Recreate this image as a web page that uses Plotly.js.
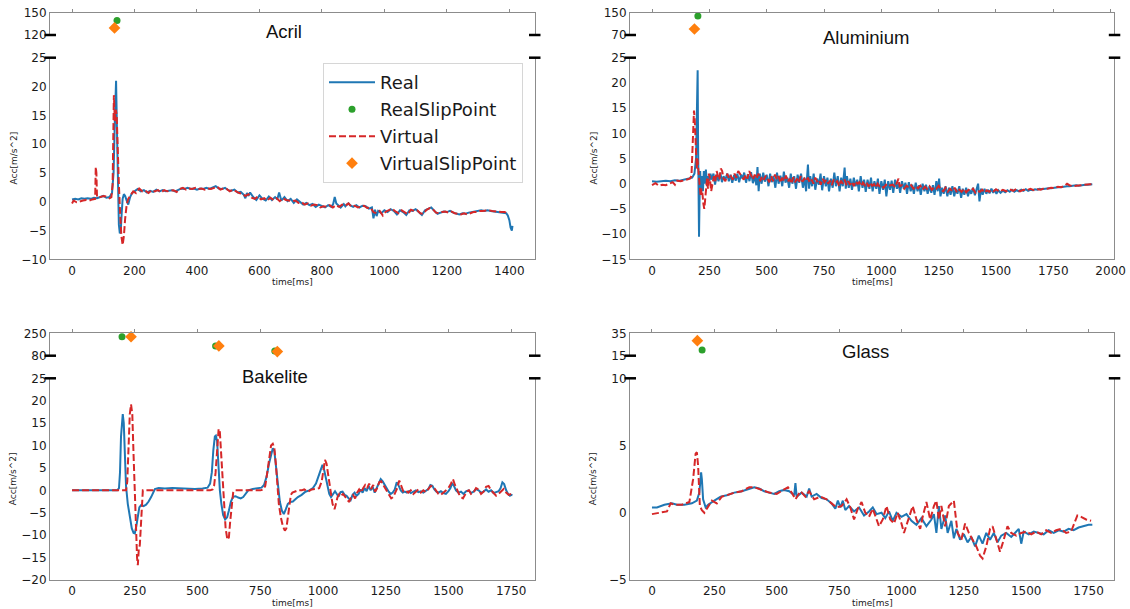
<!DOCTYPE html>
<html>
<head>
<meta charset="utf-8">
<script src="https://cdn.plot.ly/plotly-3.0.1.min.js"></script>
<style>html,body{margin:0;padding:0;background:#fff}#chart{width:1130px;height:609px}</style>
</head>
<body>
<div id="chart"></div>
<script>
// ---------------- DATA ----------------
const panelTitles = ["Acril", "Aluminium", "Bakelite", "Glass"];
const seriesNames = ["Real", "RealSlipPoint", "Virtual", "VirtualSlipPoint"];

// [time ms, acc m/s^2]
const acrilReal = [[0,0.4],[10,0.5],[20,0.4],[30,0.6],[40,0.5],[50,0.6],[60,0.5],[70,0.7],[80,0.6],[90,0.8],[100,1.0],[110,0.7],[120,0.8],[128,1.5],[133,5],[137,14],[141,21],[144,12],[147,0],[150,-4],[153,-5.5],[156,-5],[159,-2],[162,0.5],[166,1.3],[170,1.0],[175,0.2],[180,-0.5],[186,0.8],[192,1.5],[200,1.8],[210,2.2],[220,1.8],[230,2.0],[240,1.6],[250,1.9],[260,1.7],[270,2.1],[280,1.8],[290,2.0],[300,1.8],[310,1.9],[320,2.0],[330,1.8],[340,2.1],[350,2.3],[360,2.2],[370,2.4],[380,2.2],[390,2.3],[400,2.1],[410,2.3],[420,2.2],[430,2.4],[440,2.2],[450,2.5],[460,2.7],[470,2.3],[480,2.2],[490,2.4],[500,2.0],[510,1.9],[520,2.1],[530,1.6],[540,1.7],[550,1.2],[555,0.6],[560,1.5],[565,1.0],[570,1.6],[580,0.8],[590,0.3],[600,1.1],[610,0.5],[620,0.2],[630,0.9],[640,0.3],[650,0.8],[657,0.4],[663,1.6],[670,0.2],[680,0.8],[690,0.1],[700,0.5],[710,-0.2],[720,0.4],[730,0],[740,-0.5],[750,-0.2],[760,-0.6],[770,-0.4],[780,-0.9],[790,-0.5],[800,-0.8],[810,-1.0],[820,-0.6],[830,-0.9],[836,-0.4],[841,0.8],[846,-0.3],[850,-0.5],[860,-1.0],[870,-0.4],[875,-0.8],[880,-0.5],[885,-0.3],[890,-0.6],[900,-0.9],[910,-0.6],[920,-1.0],[930,-0.7],[940,-0.8],[950,-1.2],[960,-1.0],[965,-2.9],[970,-1.4],[975,-2.5],[980,-1.6],[990,-2.0],[1000,-1.5],[1010,-1.8],[1020,-1.3],[1030,-1.6],[1040,-2.2],[1050,-1.5],[1060,-1.8],[1070,-2.3],[1080,-1.5],[1090,-1.6],[1100,-1.3],[1110,-1.8],[1120,-2.3],[1130,-1.5],[1140,-1.2],[1150,-1.0],[1160,-1.6],[1170,-2.1],[1180,-1.9],[1190,-1.7],[1200,-1.8],[1210,-1.6],[1220,-1.9],[1230,-2.1],[1240,-2.2],[1250,-2.0],[1260,-2.1],[1270,-1.9],[1280,-1.8],[1290,-1.7],[1300,-1.6],[1310,-1.5],[1320,-1.6],[1330,-1.5],[1340,-1.6],[1350,-1.7],[1360,-1.8],[1370,-1.8],[1380,-1.9],[1390,-2.0],[1395,-2.4],[1400,-3.2],[1404,-4.5],[1408,-5.0],[1410,-4.2]];
const acrilVirtual = [[0,-0.3],[5,0.2],[15,-0.1],[25,0.1],[35,0.2],[45,0.3],[55,0.2],[65,0.4],[74,0.5],[76,6],[78,5],[80,0.8],[90,0.8],[100,1.0],[110,0.9],[120,0.6],[126,0.8],[130,3],[134,18.5],[137,14],[140,16],[143,15],[146,9],[150,3],[154,-2],[158,-6],[162,-7.5],[166,-6],[170,-3],[175,-0.5],[180,0.5],[188,1.2],[196,1.8],[205,1.5],[215,2.3],[225,1.8],[235,1.9],[245,1.5],[255,2.0],[265,1.8],[275,2.0],[285,1.6],[295,2.0],[305,1.8],[315,1.9],[325,2.0],[335,1.7],[345,2.2],[355,2.4],[365,2.1],[375,2.3],[385,2.2],[395,2.4],[405,2.2],[415,2.3],[425,2.1],[435,2.3],[445,2.2],[455,2.4],[465,2.6],[475,2.1],[485,2.3],[495,2.2],[505,1.8],[515,2.1],[525,1.8],[535,1.5],[545,1.4],[555,1.0],[565,1.3],[575,0.7],[585,0.5],[595,0.9],[605,0.4],[615,0.6],[625,0.2],[635,0.7],[645,0.3],[655,0.6],[665,0.1],[675,0.6],[685,0.3],[695,0.2],[705,0.1],[715,0.2],[725,-0.2],[735,-0.1],[745,-0.5],[755,-0.3],[765,-0.7],[775,-0.5],[785,-0.6],[795,-1.0],[805,-0.8],[815,-0.9],[825,-0.6],[835,-1.0],[845,-0.6],[855,-0.9],[865,-0.5],[875,-0.7],[885,-0.3],[895,-0.9],[905,-0.7],[915,-1.0],[925,-0.8],[935,-0.7],[945,-1.1],[955,-1.0],[965,-1.8],[975,-2.0],[985,-1.6],[995,-2.4],[1005,-1.7],[1015,-1.5],[1025,-1.2],[1035,-1.7],[1045,-2.0],[1055,-1.5],[1065,-1.9],[1075,-2.2],[1085,-1.4],[1095,-1.6],[1105,-1.5],[1115,-2.0],[1125,-2.1],[1135,-1.4],[1145,-1.1],[1155,-1.3],[1165,-1.9],[1175,-2.0],[1185,-1.8],[1195,-1.7],[1205,-1.9],[1215,-1.7],[1225,-2.0],[1235,-2.1],[1245,-2.2],[1255,-2.0],[1265,-2.2],[1275,-2.0],[1285,-1.8],[1295,-1.8],[1305,-1.6],[1315,-1.6],[1325,-1.5],[1335,-1.5],[1345,-1.6],[1355,-1.7],[1365,-1.7],[1375,-1.8],[1385,-1.8],[1395,-2.0]];
const acrilRealSlip = [[144, 139.5]];
const acrilVirtualSlip = [[136, 129.5]];

const aluRealData = [[0,0.5],[20,0.4],[40,0.5],[60,0.6],[80,0.5],[100,0.7],[120,0.6],[140,0.8],[160,1.0],[175,1.2],[185,2],[192,5],[196,15],[199,22.5],[201,8],[203,-3],[205,-10.5],[207,-4],[210,2.5],[214,-2],[218,1.5],[222,-1.5],[226,2.5],[230,0],[235,2.8],[240,-0.5],[245,1.5],[250,0.5],[255,2],[260,0.8],[268,2.0],[275,-0.2],[282,1.8],[290,0.5],[298,2.2],[305,0.3],[312,1.5],[320,0.8],[328,2.0],[335,0.5],[342,1.8],[350,0.2],[358,1.7],[365,0.6],[372,2.0],[380,0.3],[388,1.8],[395,1.0],[402,2.2],[410,0.2],[418,1.9],[425,0.5],[432,2.3],[440,0.1],[448,1.5],[455,-0.3],[460,3.3],[465,-1.5],[470,2.0],[478,0],[485,2.2],[492,0.4],[500,1.8],[508,-0.5],[515,2.0],[522,0.3],[530,1.5],[538,-0.8],[545,2.2],[552,0],[560,1.6],[568,-0.5],[575,2.4],[582,0.2],[590,1.2],[598,-0.8],[605,2.0],[612,0],[620,1.5],[628,-1.0],[635,1.8],[642,0.2],[650,2.0],[658,-0.8],[665,1.2],[672,-1.5],[680,3.8],[685,-1.0],[690,1.5],[698,-0.5],[705,2.0],[712,-1.2],[720,1.0],[728,-0.2],[735,2.0],[742,-1.3],[750,1.5],[758,-0.5],[765,1.2],[772,-1.5],[780,1.0],[788,-0.8],[795,2.2],[802,-0.5],[810,1.5],[818,-1.5],[825,1.2],[832,-0.5],[840,3.2],[845,-1.0],[850,1.5],[858,-0.8],[865,1.0],[872,-1.2],[880,1.2],[888,-0.5],[895,0.8],[902,-1.5],[910,1.5],[918,-0.8],[925,0.8],[932,-1.6],[940,0.8],[948,-1.0],[955,1.2],[962,-1.5],[970,0.5],[978,-1.0],[985,1.0],[992,-2.0],[1000,0.5],[1008,-1.2],[1015,0.8],[1022,-2.5],[1030,0.5],[1038,-1.2],[1045,0.6],[1052,-1.8],[1060,0.8],[1068,-1.0],[1075,0.2],[1082,-1.8],[1090,0.5],[1098,-1.0],[1105,0.2],[1112,-2.0],[1120,0.3],[1128,-1.5],[1135,-0.2],[1142,-2.0],[1150,0.2],[1158,-1.5],[1165,-0.3],[1172,-2.2],[1180,0],[1188,-1.5],[1195,-0.2],[1202,-2.0],[1210,-0.5],[1218,-1.8],[1225,-0.3],[1232,-2.2],[1240,0.5],[1246,-1.5],[1252,1.0],[1258,-2.5],[1265,-0.8],[1272,-2.0],[1280,-0.5],[1288,-2.5],[1295,-0.8],[1302,-2.2],[1310,-0.5],[1318,-2.5],[1325,-1.0],[1332,-2.0],[1340,-0.5],[1348,-2.8],[1355,-1.0],[1362,-2.2],[1370,-0.8],[1378,-2.5],[1385,-1.2],[1392,-2.0],[1400,-0.8],[1408,-2.3],[1415,-1.2],[1422,0],[1428,-3.5],[1435,-1.0],[1442,-2.2],[1450,-1.0],[1458,-2.0],[1465,-1.2],[1472,-1.9],[1480,-1.0],[1488,-1.8],[1495,-1.2],[1502,-2.0],[1510,-1.3],[1520,-1.8],[1530,-1.4],[1540,-1.7],[1550,-1.3],[1560,-1.6],[1570,-1.2],[1580,-1.6],[1590,-1.3],[1600,-1.5],[1610,-1.2],[1620,-1.4],[1630,-1.1],[1640,-1.4],[1650,-1.2],[1660,-1.3],[1670,-1.1],[1680,-1.2],[1690,-1.0],[1700,-1.1],[1710,-1.0],[1720,-1.0],[1730,-0.9],[1740,-0.9],[1750,-0.8],[1760,-0.8],[1770,-0.7],[1780,-0.7],[1790,-0.6],[1800,-0.6],[1810,-0.5],[1820,-0.5],[1830,-0.4],[1840,-0.4],[1850,-0.3],[1860,-0.4],[1870,-0.3],[1880,-0.3],[1890,-0.2],[1900,-0.2],[1910,-0.1],[1920,-0.1]];
const aluVirtualData = [[0,-0.3],[15,0.1],[30,-0.4],[45,-0.2],[60,-0.3],[75,0],[90,0.3],[100,-0.2],[110,0.6],[125,0.5],[140,0.7],[155,0.8],[165,1.0],[172,1.5],[176,6],[180,12],[183,14.5],[186,13],[189,9],[192,4],[195,3],[198,5],[201,3.5],[204,1.0],[208,-1],[212,-2.5],[216,-1],[220,-2],[224,-4],[228,-5],[232,-3],[236,-0.5],[240,1],[244,-1],[248,2],[252,1.2],[258,-1.5],[264,0],[270,1.5],[276,0.5],[282,2.5],[288,1.5],[294,0.8],[300,3],[306,2.5],[312,1.0],[320,0.5],[328,2.0],[336,1.0],[344,1.5],[352,0.8],[360,2.0],[368,1.2],[376,2.5],[384,2.0],[392,1.5],[400,0.8],[408,1.8],[416,1.0],[424,2.5],[432,1.5],[440,0.8],[448,1.8],[456,1.0],[464,2.0],[472,0.5],[480,1.5],[488,0.8],[496,1.6],[504,1.0],[512,0.3],[520,1.5],[528,0.5],[536,1.8],[544,0.8],[552,1.5],[560,0.2],[568,1.2],[576,0.5],[584,1.6],[592,0.4],[600,1.0],[608,0.0],[616,1.3],[624,0.3],[632,1.0],[640,0.2],[648,1.5],[656,0.4],[664,1.0],[672,0.5],[680,1.2],[688,0.2],[696,0.8],[704,0.0],[712,1.2],[720,0.5],[728,0.8],[736,-0.2],[744,1.0],[752,0.3],[760,0.8],[768,0.0],[776,0.6],[784,-0.3],[792,0.8],[800,0.2],[808,0.5],[816,-0.5],[824,0.6],[832,0],[840,0.8],[848,-0.3],[856,0.5],[864,-0.2],[872,0.4],[880,-0.5],[888,0.5],[896,0],[904,0.3],[912,-0.5],[920,0.2],[928,-0.3],[936,0.3],[944,-0.6],[952,0.2],[960,-0.4],[968,-0.1],[976,-0.8],[984,0],[992,-0.5],[1000,-0.3],[1010,-0.8],[1020,-0.2],[1030,-0.6],[1040,-0.3],[1050,-0.2],[1060,-0.7],[1070,0.6],[1075,1.0],[1080,-0.5],[1090,-0.3],[1100,-1.0],[1110,-0.4],[1120,-0.8],[1130,-0.3],[1140,-1.0],[1150,-0.5],[1160,-0.9],[1170,-0.4],[1180,-1.2],[1190,-0.6],[1200,-1.0],[1210,-0.5],[1220,-1.2],[1230,-0.7],[1240,-1.0],[1250,-0.4],[1260,-1.2],[1270,-1.5],[1280,-0.8],[1290,-1.6],[1300,-1.0],[1310,-1.5],[1320,-0.8],[1330,-1.8],[1340,-1.2],[1350,-1.6],[1360,-1.0],[1370,-1.7],[1380,-1.2],[1390,-1.5],[1400,-1.0],[1410,-1.8],[1420,-1.4],[1430,-1.6],[1440,-1.2],[1450,-1.8],[1460,-1.3],[1470,-1.6],[1480,-1.2],[1490,-1.5],[1500,-1.1],[1515,-1.6],[1530,-1.2],[1545,-1.5],[1560,-1.1],[1575,-1.4],[1590,-1.0],[1605,-1.5],[1620,-1.2],[1635,-1.3],[1650,-1.0],[1665,-1.3],[1680,-1.1],[1695,-1.2],[1710,-0.9],[1725,-1.0],[1740,-0.8],[1755,-0.9],[1770,-0.6],[1785,-0.7],[1800,-0.4],[1810,0.0],[1820,-0.3],[1835,-0.5],[1850,-0.4],[1865,-0.3],[1880,-0.3],[1895,-0.2],[1910,-0.1],[1920,-0.1]];
const aluRealSlip = [[200, 138]];
const aluVirtualSlip = [[185, 91.5]];

const bakeReal = [[0,0],[50,0],[100,0],[150,0],[180,0],[187,0.5],[191,4],[195,12],[199,16.5],[202,17],[206,15],[210,7],[215,1],[222,-3],[230,-6],[238,-8.5],[245,-9.5],[250,-9.6],[256,-8],[262,-5.5],[268,-3.8],[275,-3.3],[285,-3.5],[295,-3.2],[305,-2.5],[315,-1.5],[322,-0.5],[330,0.3],[345,0.5],[370,0.4],[400,0.5],[430,0.4],[460,0.3],[490,0.3],[520,0.4],[540,0.6],[550,1.5],[557,4],[563,9],[569,12],[573,12.2],[578,11],[583,6],[589,0],[595,-3],[602,-5.5],[610,-6.5],[618,-6],[625,-4.5],[633,-2.5],[642,-1.4],[652,-1.3],[662,-1.6],[672,-1.8],[682,-1.5],[692,-0.7],[702,0],[720,0.3],[740,0.4],[755,0.6],[765,1.2],[775,3],[785,6],[794,8.5],[800,9.4],[806,8.8],[813,5],[820,1],[828,-2.5],[836,-4.5],[844,-5.3],[852,-4.2],[860,-3],[870,-2.6],[880,-2.5],[890,-2],[900,-1.5],[915,-1],[930,-0.3],[945,0],[960,0.5],[972,1.5],[982,3],[990,4.5],[998,5.7],[1003,5],[1010,3],[1017,0.8],[1025,-0.8],[1032,-1.5],[1040,-0.8],[1048,-0.2],[1055,-0.8],[1062,-1.4],[1070,-0.4],[1078,-0.3],[1086,-1.0],[1094,-1.2],[1102,-1.8],[1110,-2.2],[1118,-1.0],[1126,-0.5],[1134,-1.2],[1142,-0.8],[1150,0.2],[1158,-0.5],[1166,0.5],[1174,-0.2],[1182,1.0],[1190,0],[1198,0.8],[1206,-0.5],[1214,0.5],[1222,1.5],[1230,2.5],[1238,2.0],[1246,1.2],[1254,0.5],[1262,-0.3],[1270,-0.8],[1278,-0.5],[1286,0.2],[1294,1.8],[1302,1.0],[1310,0],[1318,-0.5],[1326,-0.3],[1334,-0.5],[1342,-0.2],[1350,-0.6],[1360,-0.3],[1370,0],[1380,-0.4],[1390,-0.2],[1400,-0.5],[1410,0],[1420,0.3],[1428,1.2],[1436,1.0],[1444,0.2],[1452,-0.3],[1460,-0.5],[1470,-0.2],[1480,-0.6],[1490,-0.8],[1500,-0.2],[1508,0.5],[1515,1.6],[1522,1.0],[1530,0],[1540,-0.5],[1550,-0.3],[1560,-0.8],[1570,-0.2],[1580,0],[1590,-0.6],[1600,-0.3],[1610,0.3],[1620,0],[1630,-0.5],[1640,-0.3],[1650,0.2],[1660,-0.3],[1670,0],[1680,-0.6],[1690,-0.4],[1700,-0.2],[1708,0.5],[1715,1.8],[1722,1.4],[1730,0],[1738,-0.8],[1745,-1.2],[1750,-1.0],[1755,-1.1]];
const bakeVirtual = [[0,0],[50,0],[100,0],[150,0],[200,0],[215,0],[220,2],[225,10],[230,17],[235,19.2],[240,17],[245,8],[250,-2],[255,-10],[259,-15],[262,-16.7],[266,-13],[270,-12.2],[274,-8],[278,-3],[282,0],[300,0],[350,0],[400,0],[450,0],[500,0],[550,0],[560,0.2],[566,1],[572,4],[578,9],[584,13.7],[589,13],[594,8],[600,2],[606,-4],[612,-8.5],[619,-11],[625,-10.5],[630,-7],[636,-3],[642,-0.5],[648,0],[700,0],[750,0],[762,0.2],[770,1],[778,4],[786,8],[793,10],[800,10.4],[806,9.5],[812,6],[818,1],[824,-3],[832,-6],[840,-8],[848,-9],[854,-8.5],[860,-6],[866,-3],[872,-1],[878,-0.5],[890,-0.3],[900,0],[915,0],[925,0.2],[940,-0.3],[955,0.2],[970,0.3],[985,0.5],[995,2],[1002,5],[1008,6.8],[1014,6],[1020,4],[1026,1],[1032,-1],[1038,-3],[1046,-4.2],[1052,-3],[1058,-1.5],[1065,-0.8],[1072,-1.2],[1080,-0.8],[1088,-1.5],[1096,-2.0],[1104,-2.6],[1112,-1.5],[1120,-1.0],[1128,-1.8],[1136,-0.5],[1144,0.2],[1152,-0.5],[1160,0.5],[1168,1.2],[1176,0.5],[1184,1.5],[1192,0.3],[1200,1.2],[1208,-0.3],[1216,0.5],[1224,1.8],[1232,2.0],[1240,1.2],[1248,0.5],[1256,-0.5],[1264,-1.2],[1272,-1.8],[1280,-1.5],[1288,-0.5],[1296,0.5],[1304,2.2],[1312,1.0],[1320,-0.2],[1330,0],[1340,-0.5],[1350,0],[1360,-0.8],[1370,-0.3],[1380,0.2],[1390,-0.5],[1400,0],[1410,-0.4],[1420,0.3],[1430,1.0],[1440,0.8],[1450,0],[1460,-0.8],[1470,-1.0],[1480,-0.5],[1490,0],[1500,0.5],[1510,1.5],[1518,2.5],[1526,1.2],[1534,0],[1542,-0.8],[1550,-1.5],[1558,-1.8],[1566,-1.0],[1574,-0.2],[1582,0],[1590,-0.8],[1600,-0.5],[1610,0.5],[1620,0.2],[1630,-0.8],[1640,-0.3],[1650,0.8],[1660,1.0],[1670,0],[1680,-0.6],[1690,-1.2],[1700,-0.8],[1710,-0.2],[1720,0.3],[1730,-0.5],[1740,-1.0],[1750,-0.8]];
const bakeRealSlip = [[199, 224], [572, 154], [808, 116]];
const bakeVirtualSlip = [[235, 224], [585, 154], [818, 111]];

const glassReal = [[0,0.4],[20,0.4],[50,0.6],[80,0.7],[100,0.6],[130,0.6],[160,0.7],[180,0.9],[190,1.5],[197,3],[200,2.5],[205,1],[215,0.4],[225,0.6],[250,0.9],[275,1.2],[300,1.3],[330,1.5],[360,1.6],[390,1.8],[410,1.9],[430,1.8],[450,1.6],[470,1.5],[490,1.4],[510,1.6],[530,1.7],[550,1.6],[570,1.3],[575,2.2],[580,1.2],[600,1.5],[620,1.2],[630,1.8],[640,1.2],[660,1.4],[680,1.1],[700,1.0],[720,0.7],[735,0.3],[745,0.9],[755,0.4],[765,0.9],[775,0.2],[790,0.5],[810,0.1],[830,0.4],[850,-0.2],[870,0.1],[885,0.4],[900,-0.1],[920,0],[935,-0.4],[950,0.1],[965,-0.6],[980,0],[1000,-0.3],[1020,-0.1],[1040,-0.6],[1060,-0.9],[1080,-0.4],[1100,-1.0],[1120,-0.5],[1130,-0.1],[1140,-1.5],[1150,0.5],[1160,-1.2],[1175,-0.2],[1185,-1.5],[1200,-0.6],[1210,-1.9],[1220,-1.2],[1235,-2.0],[1250,-1.6],[1265,-2.2],[1280,-1.8],[1295,-2.5],[1310,-1.7],[1325,-2.3],[1340,-1.5],[1355,-2.0],[1370,-1.5],[1385,-2.2],[1400,-1.7],[1420,-1.5],[1440,-1.8],[1460,-1.4],[1470,-1.2],[1480,-2.3],[1490,-1.4],[1510,-1.6],[1530,-1.4],[1550,-1.5],[1570,-1.6],[1590,-1.3],[1610,-1.5],[1630,-1.3],[1650,-1.4],[1670,-1.2],[1690,-1.3],[1710,-1.1],[1730,-1.0],[1750,-0.9],[1765,-0.9]];
const glassVirtual = [[0,-0.1],[30,0],[60,0.1],[75,0.7],[90,0.6],[120,0.6],[150,0.8],[165,2.5],[175,4.4],[180,4.5],[185,3.5],[192,0.5],[200,0.2],[210,0],[225,0.5],[240,0.9],[260,0.7],[280,1.2],[300,1.3],[330,1.5],[360,1.6],[390,1.9],[410,1.9],[440,1.7],[470,1.5],[500,1.4],[530,1.7],[545,1.9],[560,1.5],[575,1.0],[595,1.6],[615,1.2],[630,1.6],[650,1.0],[675,1.2],[700,1.0],[720,0.7],[740,0.4],[760,0.5],[780,1.0],[795,0.4],[810,-0.5],[825,0.3],[840,0.8],[855,0.0],[870,-0.3],[885,0.3],[900,-0.5],[910,-1.0],[925,-0.5],[940,0.5],[955,-0.5],[970,-0.8],[985,0.0],[1000,-0.8],[1010,-1.5],[1030,-0.3],[1045,0.5],[1060,-0.5],[1075,-1.2],[1085,-0.3],[1100,0.8],[1115,-0.5],[1130,0.5],[1140,0.9],[1150,-0.5],[1160,0.5],[1175,-1.0],[1190,0.5],[1210,0.9],[1225,-1.5],[1240,-2.0],[1255,-0.8],[1270,-1.5],[1285,-2.0],[1300,-2.5],[1315,-3.2],[1325,-3.4],[1340,-2.5],[1355,-1.2],[1365,-1.0],[1380,-2.0],[1395,-2.9],[1410,-2.0],[1425,-1.0],[1440,-1.5],[1460,-1.7],[1480,-1.5],[1500,-1.4],[1520,-1.6],[1540,-1.4],[1560,-1.6],[1580,-1.3],[1600,-1.5],[1620,-1.3],[1640,-1.2],[1660,-1.5],[1680,-1.4],[1695,-0.7],[1705,-0.2],[1720,-0.3],[1740,-0.5],[1760,-0.6]];
const glassRealSlip = [[201, 20.1]];
const glassVirtualSlip = [[182, 28.4]];

// tick labels
const acrilXTicks = [0,200,400,600,800,1000,1200,1400];
const longXTicks = [0,250,500,750,1000,1250,1500,1750];
const aluXTicks = [0,250,500,750,1000,1250,1500,1750,2000];
const acrilYTicksLow = [-10,-5,0,5,10,15,20,25];
const aluYTicksLow = [-15,-10,-5,0,5,10,15,20,25];
const bakeYTicksLow = [-20,-15,-10,-5,0,5,10,15,20,25];
const glassYTicksLow = [-5,0,5,10];
const acrilYTicksUp = [120,150];
const aluYTicksUp = [70,150];
const bakeYTicksUp = [80,250];
const glassYTicksUp = [15,35];

// ---------------- LAYOUT (pixel geometry of the figure) ----------------
const W = 1130, H = 609;
const px = p => p / W;
const py = p => 1 - p / H;
const panels = [
  {title: panelTitles[0], real: acrilReal, virt: acrilVirtual, rs: acrilRealSlip, vs: acrilVirtualSlip,
   xpx: [50, 534.5], up: [12.7, 35], lo: [57.7, 259.3], xr: [-70.5, 1480.5], xt: acrilXTicks,
   yrUp: [120, 150], ytUp: acrilYTicksUp, yrLo: [-10, 25], ytLo: acrilYTicksLow, tpos: [284, 31]},
  {title: panelTitles[1], real: aluRealData, virt: aluVirtualData, rs: aluRealSlip, vs: aluVirtualSlip,
   xpx: [630, 1114.3], up: [12.7, 35], lo: [57.7, 259.3], xr: [-96, 2016], xt: aluXTicks,
   yrUp: [70, 150], ytUp: aluYTicksUp, yrLo: [-15, 25], ytLo: aluYTicksLow, tpos: [866, 37]},
  {title: panelTitles[2], real: bakeReal, virt: bakeVirtual, rs: bakeRealSlip, vs: bakeVirtualSlip,
   xpx: [50, 534.5], up: [333.3, 355.7], lo: [378.3, 580], xr: [-88, 1843], xt: longXTicks,
   yrUp: [80, 250], ytUp: bakeYTicksUp, yrLo: [-20, 25], ytLo: bakeYTicksLow, tpos: [275, 376]},
  {title: panelTitles[3], real: glassReal, virt: glassVirtual, rs: glassRealSlip, vs: glassVirtualSlip,
   xpx: [630, 1114.3], up: [333.3, 355.7], lo: [378.3, 580], xr: [-88, 1853], xt: longXTicks,
   yrUp: [15, 35], ytUp: glassYTicksUp, yrLo: [-5, 10], ytLo: glassYTicksLow, tpos: [865, 351]}
];

const FONT = "DejaVu Sans, sans-serif";
const SPINE = "#8c8c8c";
const traces = [];
const layout = {
  width: W, height: H,
  margin: {l: 0, r: 0, t: 0, b: 0},
  paper_bgcolor: "#fff", plot_bgcolor: "#fff",
  font: {family: FONT, color: "#1a1a1a", size: 12},
  showlegend: true,
  legend: {
    x: px(323), y: py(63), xanchor: "left", yanchor: "top",
    bgcolor: "rgba(255,255,255,0.9)", bordercolor: "#d6d6d6", borderwidth: 1,
    font: {family: FONT, size: 18, color: "#1a1a1a"},
    tracegroupgap: 0.6, itemwidth: 46, traceorder: "grouped"
  },
  annotations: [], shapes: []
};

const id = n => (n === 1 ? "" : String(n));
panels.forEach((p, i) => {
  const a = 2 * i + 1, b = 2 * i + 2;
  const xd = [px(p.xpx[0]), px(p.xpx[1])];
  const first = i === 0;
  layout["xaxis" + id(a)] = {
    domain: xd, anchor: "y" + id(a), range: p.xr, tickvals: p.xt, ticks: "",
    showline: true, linecolor: SPINE, linewidth: 1, showgrid: false, zeroline: false,
    tickfont: {family: FONT, size: 12, color: "#1a1a1a"}, fixedrange: true
  };
  layout["xaxis" + id(b)] = {
    domain: xd, anchor: "y" + id(b), matches: "x" + id(a), range: p.xr, tickvals: p.xt,
    side: "top", ticks: "outside", ticklen: 3, tickcolor: SPINE, showticklabels: false,
    showline: true, linecolor: SPINE, linewidth: 1, showgrid: false, zeroline: false, fixedrange: true
  };
  layout["yaxis" + id(a)] = {
    domain: [py(p.lo[1]), py(p.lo[0])], anchor: "x" + id(a), range: p.yrLo, tickvals: p.ytLo, ticks: "",
    showline: true, mirror: true, linecolor: SPINE, linewidth: 1, showgrid: false, zeroline: false,
    tickfont: {family: FONT, size: 12, color: "#1a1a1a"}, fixedrange: true
  };
  layout["yaxis" + id(b)] = {
    domain: [py(p.up[1]), py(p.up[0])], anchor: "x" + id(b), range: p.yrUp, tickvals: p.ytUp, ticks: "",
    showline: true, mirror: true, linecolor: SPINE, linewidth: 1, showgrid: false, zeroline: false,
    tickfont: {family: FONT, size: 12, color: "#1a1a1a"}, fixedrange: true
  };

  traces.push({
    type: "scatter", mode: "lines", name: seriesNames[0], legendgroup: "g1", showlegend: first,
    x: p.real.map(d => d[0]), y: p.real.map(d => d[1]),
    xaxis: "x" + id(a), yaxis: "y" + id(a), line: {color: "#1f77b4", width: 2}
  });
  traces.push({
    type: "scatter", mode: "markers", name: seriesNames[1], legendgroup: "g2", showlegend: first,
    x: p.rs.map(d => d[0]), y: p.rs.map(d => d[1]),
    xaxis: "x" + id(b), yaxis: "y" + id(b), marker: {color: "#2ca02c", size: 7, symbol: "circle"}, cliponaxis: false
  });
  traces.push({
    type: "scatter", mode: "lines", name: seriesNames[2], legendgroup: "g3", showlegend: first,
    x: p.virt.map(d => d[0]), y: p.virt.map(d => d[1]),
    xaxis: "x" + id(a), yaxis: "y" + id(a), line: {color: "#d62728", width: 2, dash: "7px,3px"}
  });
  traces.push({
    type: "scatter", mode: "markers", name: seriesNames[3], legendgroup: "g4", showlegend: first,
    x: p.vs.map(d => d[0]), y: p.vs.map(d => d[1]),
    xaxis: "x" + id(b), yaxis: "y" + id(b), marker: {color: "#ff7f0e", size: 9, symbol: "diamond"}, cliponaxis: false
  });

  // panel title
  layout.annotations.push({
    xref: "paper", yref: "paper", x: px(p.tpos[0]), y: py(p.tpos[1]), xanchor: "center", yanchor: "middle",
    text: p.title, showarrow: false, font: {family: "Liberation Sans, Arial, sans-serif", size: 18.5, color: "#111"}
  });
  // axis titles
  layout.annotations.push({
    xref: "paper", yref: "paper", x: px((p.xpx[0] + p.xpx[1]) / 2), y: py(p.lo[1] + 23), xanchor: "center", yanchor: "middle",
    text: "time[ms]", showarrow: false, font: {family: FONT, size: 9, color: "#1a1a1a"}
  });
  layout.annotations.push({
    xref: "paper", yref: "paper", x: px(p.xpx[0] - 37), y: py((p.lo[0] + p.lo[1]) / 2), xanchor: "center", yanchor: "middle",
    text: "Acc[m/s^2]", textangle: -90, showarrow: false, font: {family: FONT, size: 9, color: "#1a1a1a"}
  });
  // break marks
  [p.xpx[0], p.xpx[1]].forEach(xp => {
    [p.up[1], p.lo[0]].forEach(yp => {
      layout.shapes.push({
        type: "line", xref: "paper", yref: "paper",
        x0: px(xp - 5.5), x1: px(xp + 6), y0: py(yp), y1: py(yp),
        line: {color: "#000", width: 2.5}
      });
    });
  });
});

Plotly.newPlot("chart", traces, layout, {displayModeBar: false, staticPlot: true});
</script>
</body>
</html>
